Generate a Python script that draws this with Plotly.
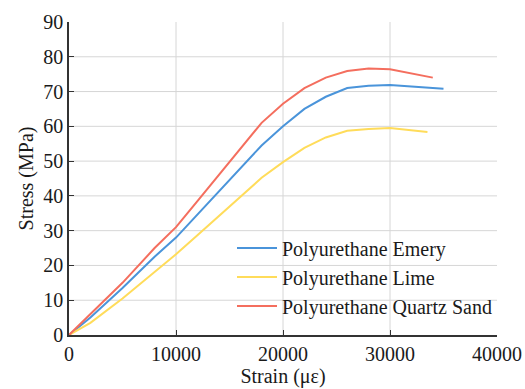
import plotly.graph_objects as go

strain_emery = [0, 2000, 5000, 8000, 10000, 12000, 14000, 16000, 18000, 20000, 22000, 24000, 26000, 28000, 30000, 35000]
stress_emery = [0, 5, 13.5, 22.5, 28.0, 34.6, 41.3, 48.0, 54.5, 60.0, 65.0, 68.5, 71.0, 71.7, 71.9, 70.8]

strain_lime = [0, 2000, 5000, 8000, 10000, 12000, 14000, 16000, 18000, 20000, 22000, 24000, 26000, 28000, 30000, 33500]
stress_lime = [0, 3.5, 10.5, 18.0, 23.2, 28.7, 34.2, 39.8, 45.2, 49.7, 53.8, 56.8, 58.7, 59.2, 59.5, 58.4]

strain_quartz = [0, 2000, 5000, 8000, 10000, 12000, 14000, 16000, 18000, 20000, 22000, 24000, 26000, 28000, 30000, 34000]
stress_quartz = [0, 6, 15, 25, 31, 38.5, 46, 53.5, 61, 66.5, 71, 74, 75.9, 76.6, 76.4, 74]

x_ticks = [0, 10000, 20000, 30000, 40000]
y_ticks = [0, 10, 20, 30, 40, 50, 60, 70, 80, 90]

font = "Liberation Serif"
txt = "#1a1a1a"

fig = go.Figure()
fig.add_trace(go.Scatter(x=strain_emery, y=stress_emery, mode="lines",
                         name="Polyurethane Emery", line=dict(color="#4A94DA", width=2)))
fig.add_trace(go.Scatter(x=strain_lime, y=stress_lime, mode="lines",
                         name="Polyurethane Lime", line=dict(color="#FFDC5A", width=2)))
fig.add_trace(go.Scatter(x=strain_quartz, y=stress_quartz, mode="lines",
                         name="Polyurethane Quartz Sand", line=dict(color="#F46E5E", width=2)))

shapes = []
for v in x_ticks[1:-1]:
    shapes.append(dict(type="line", xref="x", yref="y", x0=v, x1=v, y0=y_ticks[0], y1=y_ticks[-1],
                       line=dict(color="#d6d6d6", width=1), layer="below"))
for v in y_ticks[1:-1]:
    shapes.append(dict(type="line", xref="x", yref="y", x0=x_ticks[0], x1=x_ticks[-1], y0=v, y1=v,
                       line=dict(color="#d6d6d6", width=1), layer="below"))

fig.update_layout(
    width=525, height=389,
    margin=dict(l=69, r=28, t=22, b=54),
    paper_bgcolor="white", plot_bgcolor="white",
    font=dict(family=font, size=20, color=txt),
    shapes=shapes,
    showlegend=True,
    legend=dict(x=1.0, xanchor="right", y=0.03, yanchor="bottom",
                bgcolor="rgba(0,0,0,0)", font=dict(size=20, family=font, color=txt),
                tracegroupgap=0, itemwidth=40),
    xaxis=dict(range=[0, 40000], tickvals=x_ticks, ticktext=[str(v) for v in x_ticks],
               tickfont=dict(family=font, size=20, color=txt),
               showgrid=False, zeroline=False, showline=True, linecolor="#333333", linewidth=1.5,
               ticks="inside", ticklen=5, tickcolor="#333333", automargin=False,
               title=dict(text="Strain (με)", font=dict(family=font, size=20, color=txt), standoff=5)),
    yaxis=dict(range=[0, 90], tickvals=y_ticks, ticktext=[str(v) for v in y_ticks],
               tickfont=dict(family=font, size=20, color=txt),
               showgrid=False, zeroline=False, showline=True, linecolor="#333333", linewidth=1.5,
               ticks="inside", ticklen=5, tickcolor="#333333", automargin=False,
               title=dict(text="Stress (MPa)", font=dict(family=font, size=20, color=txt), standoff=4)),
)

fig.write_html("out.html", config={"displayModeBar": False},
               post_script="document.body.style.margin='0';document.body.style.overflow='hidden';")
